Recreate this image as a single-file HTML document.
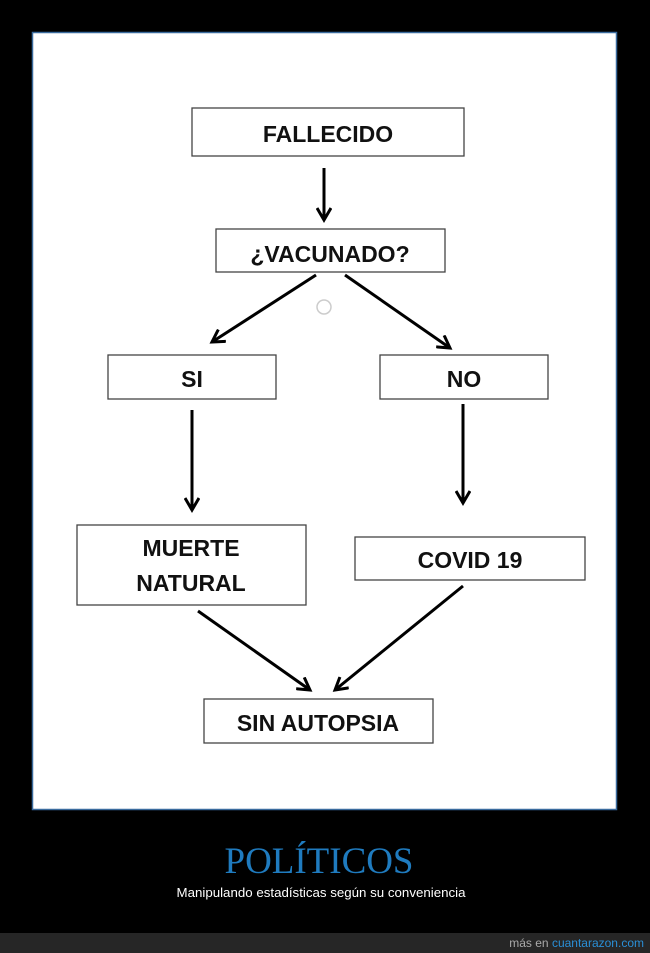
<!DOCTYPE html>
<html><head><meta charset="utf-8"><style>
html,body{margin:0;padding:0;background:#000;width:650px;height:953px;overflow:hidden}
svg{display:block}
</style></head><body>
<svg width="650" height="953" viewBox="0 0 650 953" xmlns="http://www.w3.org/2000/svg">
<defs>
<marker id="b" markerWidth="16" markerHeight="16" refX="13" refY="8" orient="auto" markerUnits="userSpaceOnUse"><path d="M1,1 L13,8 L1,15" fill="none" stroke="#000" stroke-width="3"/></marker></defs>
<rect x="0" y="0" width="650" height="953" fill="#000"/>
<rect x="32.5" y="32.5" width="584" height="777" fill="#fff" stroke="#3a6b9e" stroke-width="1.5"/>
<g fill="#fff" stroke="#444" stroke-width="1.3">
<rect x="192" y="108" width="272" height="48"/>
<rect x="216" y="229" width="229" height="43"/>
<rect x="108" y="355" width="168" height="44"/>
<rect x="380" y="355" width="168" height="44"/>
<rect x="77" y="525" width="229" height="80"/>
<rect x="355" y="537" width="230" height="43"/>
<rect x="204" y="699" width="229" height="44"/>
</g>
<g font-family="Liberation Sans, sans-serif" font-size="23" font-weight="bold" text-anchor="middle" fill="#111">
<text x="328" y="142">FALLECIDO</text>
<text x="330" y="262">¿VACUNADO?</text>
<text x="192" y="387">SI</text>
<text x="464" y="387">NO</text>
<text x="191" y="556">MUERTE</text>
<text x="191" y="591">NATURAL</text>
<text x="470" y="568">COVID 19</text>
<text x="318" y="731">SIN AUTOPSIA</text>
</g>
<g stroke="#000" stroke-width="3" fill="none" marker-end="url(#b)">
<line x1="324" y1="168" x2="324" y2="220"/>
<line x1="316" y1="275" x2="212" y2="342"/>
<line x1="345" y1="275" x2="450" y2="348"/>
<line x1="192" y1="410" x2="192" y2="510"/>
<line x1="463" y1="404" x2="463" y2="503"/>
<line x1="198" y1="611" x2="310" y2="690"/>
<line x1="463" y1="586" x2="335" y2="690"/>
</g>
<circle cx="324" cy="307" r="7" fill="none" stroke="#ccc" stroke-width="1.5"/>
<text x="319" y="873" font-family="Liberation Serif, serif" font-size="37" fill="#1f7bbf" text-anchor="middle" textLength="189" lengthAdjust="spacingAndGlyphs">POLÍTICOS</text>
<text x="321" y="897" font-family="Liberation Sans, sans-serif" font-size="13" fill="#fff" text-anchor="middle" textLength="289" lengthAdjust="spacingAndGlyphs">Manipulando estadísticas según su conveniencia</text>
<rect x="0" y="933" width="650" height="20" fill="#262626"/>
<text x="644" y="947" font-family="Liberation Sans, sans-serif" font-size="12" fill="#aaa" text-anchor="end">más en <tspan fill="#2a8fd6">cuantarazon.com</tspan></text>
</svg>
</body></html>
